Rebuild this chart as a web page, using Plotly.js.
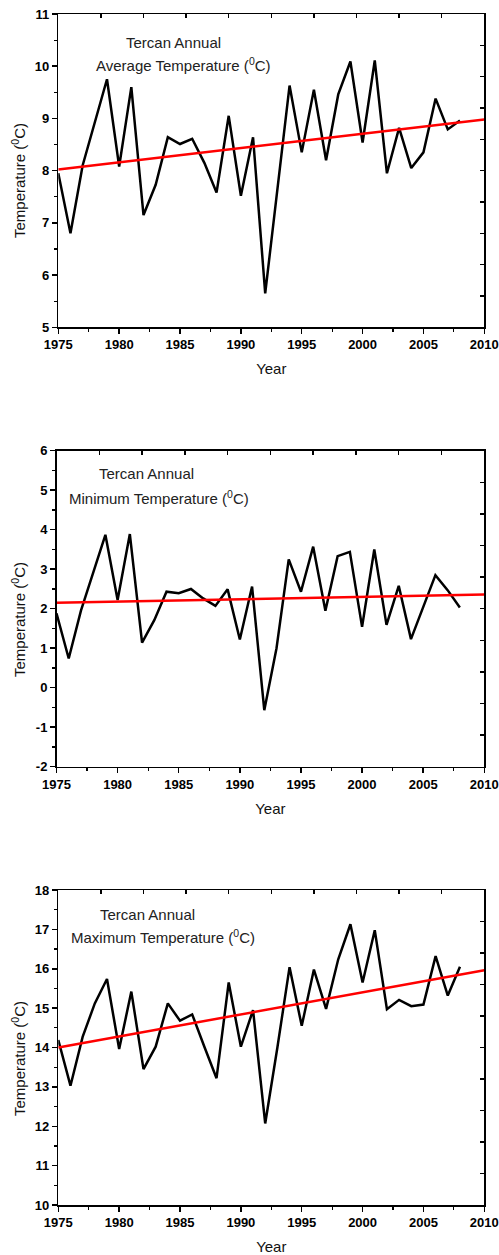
<!DOCTYPE html>
<html><head><meta charset="utf-8">
<script src="https://cdn.plot.ly/plotly-3.0.1.min.js"></script>
<style>html,body{margin:0;padding:0;background:#fff}</style>
</head><body><div id="chart" style="width:499px;height:1255px"></div>
<script>
const years = [1975,1976,1977,1978,1979,1980,1981,1982,1983,1984,1985,1986,1987,1988,1989,1990,1991,1992,1993,1994,1995,1996,1997,1998,1999,2000,2001,2002,2003,2004,2005,2006,2007,2008];
const avgTemp = [7.95,6.8,8.1,8.9,9.75,8.08,9.6,7.15,7.73,8.64,8.51,8.61,8.15,7.58,9.05,7.52,8.64,5.65,7.6,9.63,8.35,9.55,8.2,9.46,10.09,8.54,10.11,7.95,8.82,8.05,8.35,9.38,8.79,8.96];
const minTemp = [1.88,0.74,1.95,2.9,3.87,2.22,3.89,1.14,1.71,2.43,2.39,2.5,2.26,2.07,2.49,1.22,2.56,-0.57,1.0,3.25,2.43,3.57,1.95,3.33,3.44,1.54,3.5,1.59,2.58,1.23,2.05,2.85,2.47,2.03];
const maxTemp = [14.19,13.03,14.27,15.12,15.74,13.96,15.42,13.45,14.02,15.12,14.68,14.84,14.02,13.22,15.65,14.02,14.95,12.07,14.0,16.04,14.55,15.98,14.98,16.24,17.13,15.65,16.98,14.97,15.21,15.05,15.09,16.32,15.32,16.05];
const trendYears = [1975, 2010];
const avgTrend = [8.02, 8.98];
const minTrend = [2.15, 2.36];
const maxTrend = [14.0, 15.96];
const avgTicks = [5, 6, 7, 8, 9, 10, 11];
const minTicks = [-2, -1, 0, 1, 2, 3, 4, 5, 6];
const maxTicks = [10, 11, 12, 13, 14, 15, 16, 17, 18];
const avgTickText = ["5", "6", "7", "8", "9", "10", "11"];
const minTickText = ["-2", "-1", "0", "1", "2", "3", "4", "5", "6"];
const maxTickText = ["10", "11", "12", "13", "14", "15", "16", "17", "18"];
const panelTitles1 = ["Tercan Annual", "Tercan Annual", "Tercan Annual"];
const panelTitles2 = ["Average Temperature (<sup>0</sup>C)", "Minimum Temperature (<sup>0</sup>C)", "Maximum Temperature (<sup>0</sup>C)"];
const yRanges = [[5, 11], [-2, 6], [10, 18]];
const xTitle = "Year";
const yTitle = "Temperature (<sup>0</sup>C)";

const W = 499, H = 1255;
const FONT = "Liberation Sans, Arial, sans-serif";
// pixel boxes [left, right, top, bottom]
const boxes = [[58.3, 484.3, 14, 327.3], [56.5, 484.3, 450.7, 766.7], [58.3, 484.3, 890, 1205]];
const series = [avgTemp, minTemp, maxTemp];
const trends = [avgTrend, minTrend, maxTrend];
const tickVals = [avgTicks, minTicks, maxTicks];
const tickTexts = [avgTickText, minTickText, maxTickText];
const rightDt = [0.6, 0.8, 0.8];
const titlePos = [[173, 42, 183.8, 64], [146, 474, 158.8, 497], [147, 914, 162.5, 936]];
const yTitleY = [181, 620, 1059];

const data = [];
const layout = {
  width: W, height: H, margin: {l:0, r:0, t:0, b:0},
  paper_bgcolor: '#fff', plot_bgcolor: 'rgba(0,0,0,0)',
  showlegend: false, annotations: [],
  font: {family: FONT, color: '#000'}
};

for (let i = 0; i < 3; i++) {
  const n = i + 1, m = i + 4;
  const [l, r, t, b] = boxes[i];
  const xd = [l / W, r / W];
  const yd = [(H - b) / H, (H - t) / H];
  const yr = yRanges[i];
  layout['xaxis' + n] = {
    domain: xd, range: [1975, 2010], anchor: 'y' + n,
    tick0: 1975, dtick: 5, ticks: 'outside', ticklen: 5, tickwidth: 1.5, tickcolor: '#000',
    minor: {dtick: 2.5, tick0: 1975, ticks: 'outside', ticklen: 3, tickwidth: 1.2, tickcolor: '#000'},
    showline: true, linecolor: '#000', linewidth: 1.5, showgrid: false, zeroline: false,
    tickfont: {family: FONT, size: 13, weight: 'bold', color: '#000'},
    title: {text: xTitle, font: {family: FONT, size: 15, color: '#111'}, standoff: 12}
  };
  layout['yaxis' + n] = {
    domain: yd, range: yr, anchor: 'x' + n,
    tickmode: 'array', tickvals: tickVals[i], ticktext: tickTexts[i],
    ticks: 'outside', ticklen: 5, tickwidth: 1.5, tickcolor: '#000',
    minor: {dtick: 0.5, tick0: yr[0], ticks: 'outside', ticklen: 3, tickwidth: 1.2, tickcolor: '#000'},
    showline: true, linecolor: '#000', linewidth: 1.5, showgrid: false, zeroline: false,
    tickfont: {family: FONT, size: 13, weight: 'bold', color: '#000'}
  };
  layout['xaxis' + m] = {
    overlaying: 'x' + n, side: 'top', anchor: 'y' + n, range: [1975, 2010],
    tick0: 1975, dtick: 3.5, ticks: 'inside', ticklen: 4, tickwidth: 1.5, tickcolor: '#000',
    showticklabels: false, showline: true, linecolor: '#000', linewidth: 1.5,
    showgrid: false, zeroline: false
  };
  layout['yaxis' + m] = {
    overlaying: 'y' + n, side: 'right', anchor: 'x' + n, range: yr,
    tick0: yr[0], dtick: rightDt[i], ticks: 'inside', ticklen: 4, tickwidth: 1.5, tickcolor: '#000',
    showticklabels: false, showline: true, linecolor: '#000', linewidth: 1.5,
    showgrid: false, zeroline: false
  };
  data.push({x: [null], y: [null], xaxis: 'x' + m, yaxis: 'y' + m, mode: 'lines', hoverinfo: 'skip'});
  data.push({x: years, y: series[i], xaxis: 'x' + n, yaxis: 'y' + n, mode: 'lines',
             line: {color: '#000', width: 2.5}, cliponaxis: false});
  data.push({x: trendYears, y: trends[i], xaxis: 'x' + n, yaxis: 'y' + n, mode: 'lines',
             line: {color: '#ff0000', width: 2.5}});
  const p = titlePos[i];
  layout.annotations.push({xref: 'paper', yref: 'paper', x: p[0] / W, y: (H - p[1]) / H,
    xanchor: 'center', yanchor: 'middle', showarrow: false, text: panelTitles1[i],
    font: {family: FONT, size: 15, color: '#222'}});
  layout.annotations.push({xref: 'paper', yref: 'paper', x: p[2] / W, y: (H - p[3]) / H,
    xanchor: 'center', yanchor: 'middle', showarrow: false, text: panelTitles2[i],
    font: {family: FONT, size: 15, color: '#222'}});
  layout.annotations.push({xref: 'paper', yref: 'paper', x: 18 / W, y: (H - yTitleY[i]) / H,
    xanchor: 'center', yanchor: 'middle', showarrow: false, textangle: -90, text: yTitle,
    font: {family: FONT, size: 15, color: '#111'}});
}

Plotly.newPlot('chart', data, layout, {staticPlot: true, displayModeBar: false});
</script></body></html>
